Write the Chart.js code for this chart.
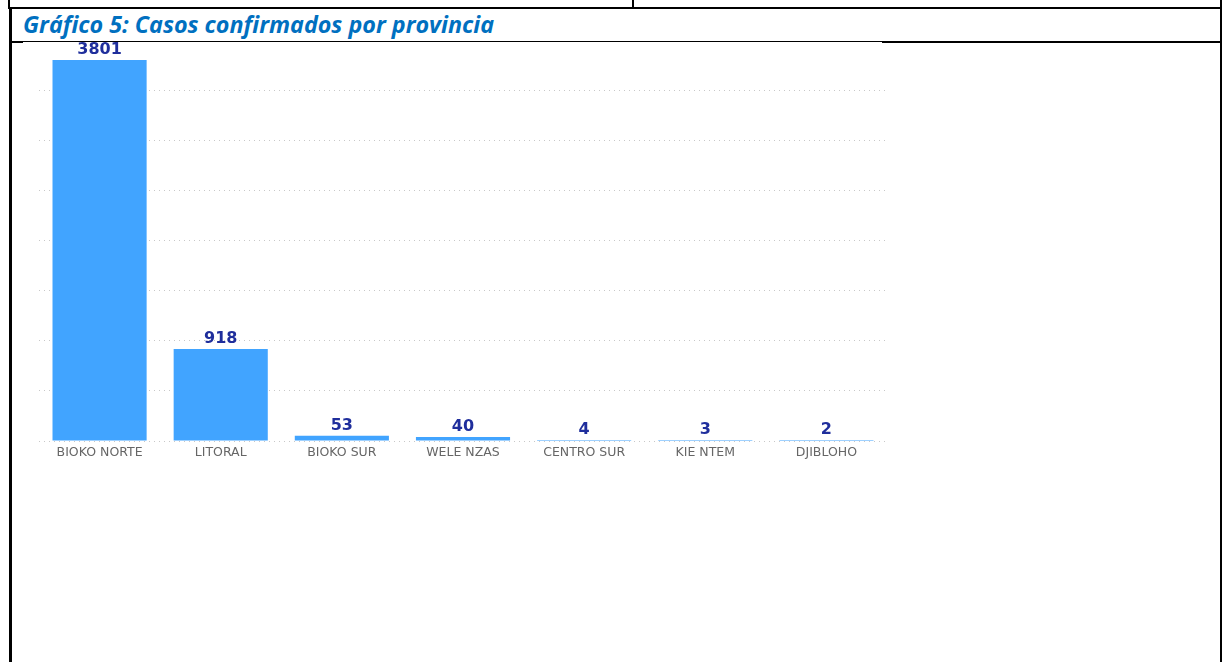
<!DOCTYPE html>
<html>
<head>
<meta charset="utf-8">
<script src="https://cdn.jsdelivr.net/npm/chart.js@4"></script>
<style>
    html, body { margin: 0; padding: 0; background: #fff; }
    #page { position: relative; width: 1225px; height: 662px; overflow: hidden; }
    .line { position: absolute; background: #000; }
    #title {
        position: absolute; left: 23px; top: 10px; margin: 0;
        font-family: "Open Sans", sans-serif; font-weight: bold; font-style: italic;
        font-size: 23.3px; line-height: 28px; color: #0070C0; white-space: nowrap;
    }
    #chart { position: absolute; left: 0; top: 0; }
</style>
</head>
<body>
<div id="page">
    <div class="line" style="left:8px;top:0;width:2px;height:8px"></div>
    <div class="line" style="left:632px;top:0;width:2px;height:8px"></div>
    <div class="line" style="left:1220px;top:0;width:2px;height:662px"></div>
    <div class="line" style="left:8px;top:7px;width:1214px;height:2px"></div>
    <div class="line" style="left:9px;top:8px;width:3px;height:654px"></div>
    <div class="line" style="left:9px;top:41px;width:14px;height:2px"></div>
    <div class="line" style="left:23px;top:41px;width:860px;height:1px"></div>
    <div class="line" style="left:882px;top:41px;width:340px;height:2px"></div>
    <h1 id="title">Gráfico 5: Casos confirmados por provincia</h1>
    <canvas id="chart" width="1225" height="662"></canvas>
</div>
<script>
const provinces = ['BIOKO NORTE', 'LITORAL', 'BIOKO SUR', 'WELE NZAS', 'CENTRO SUR', 'KIE NTEM', 'DJIBLOHO'];
const cases = [3801, 918, 53, 40, 4, 3, 2];
const yTicks = [0, 500, 1000, 1500, 2000, 2500, 3000, 3500];

// value labels above each bar
const barLabels = {
    id: 'barLabels',
    afterDatasetsDraw(chart) {
        const ctx = chart.ctx;
        const meta = chart.getDatasetMeta(0);
        ctx.save();
        ctx.font = 'bold 16px "DejaVu Sans", sans-serif';
        ctx.fillStyle = '#1F2E9C';
        ctx.textAlign = 'center';
        ctx.textBaseline = 'alphabetic';
        meta.data.forEach((bar, i) => {
            ctx.fillText(String(cases[i]), bar.x, bar.y - 6);
        });
        ctx.restore();
    }
};

new Chart(document.getElementById('chart'), {
    type: 'bar',
    data: {
        labels: provinces,
        datasets: [{
            data: cases,
            backgroundColor: '#41A4FF',
            categoryPercentage: 1,
            barPercentage: 0.777,
            minBarLength: 1
        }]
    },
    options: {
        responsive: false,
        animation: false,
        layout: { padding: { left: 39, right: 338, top: 40, bottom: 0 } },
        plugins: {
            legend: { display: false },
            tooltip: { enabled: false }
        },
        scales: {
            x: {
                afterFit: scale => { scale.height = 221; },
                grid: { display: false, drawTicks: false },
                border: { display: false },
                ticks: {
                    padding: 4,
                    color: '#666666',
                    font: { family: '"DejaVu Sans", sans-serif', size: 12.5 },
                    maxRotation: 0
                }
            },
            y: {
                min: 0,
                max: 4000,
                afterFit: scale => { scale.width = 0; },
                afterBuildTicks: scale => { scale.ticks = yTicks.map(v => ({ value: v })); },
                ticks: { display: false },
                grid: {
                    color: '#C8C8C8',
                    lineWidth: 1,
                    drawTicks: false
                },
                border: { display: false, dash: [1, 4] }
            }
        }
    },
    plugins: [barLabels]
});
</script>
</body>
</html>
